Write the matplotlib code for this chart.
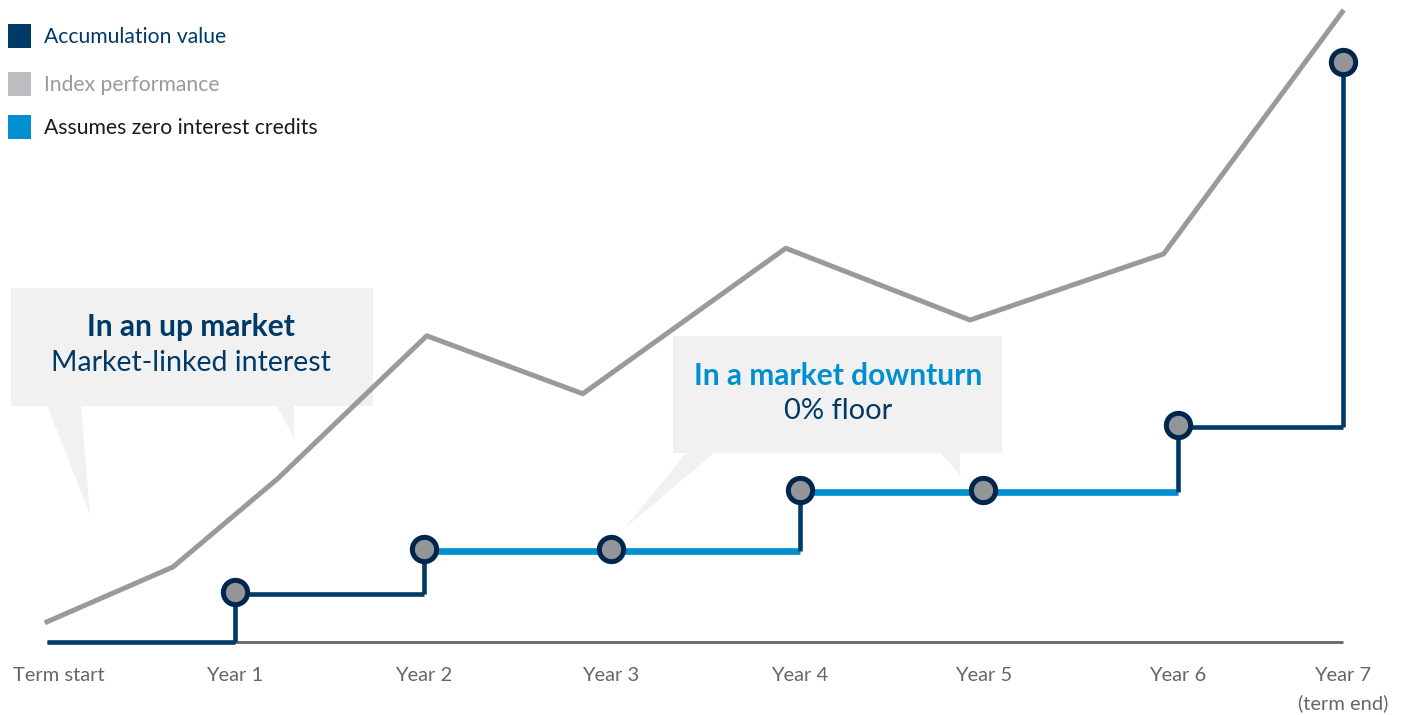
import matplotlib.pyplot as plt
from matplotlib.patches import Polygon, Rectangle

NAVY = "#003a66"
NAVY_EDGE = "#00264d"
BLUE = "#0090cf"
INDEX_GREY = "#9a9a9c"
MARKER_FILL = "#939598"
AXIS_GREY = "#666666"
BOX_GREY = "#f1f1f1"

plt.rcParams["font.family"] = ["Lato", "DejaVu Sans"]

# x in years (term start = 0), y in arbitrary value units (baseline = 0)
tick_labels = ["Term start", "Year 1", "Year 2", "Year 3", "Year 4", "Year 5", "Year 6", "Year 7"]
year_x = [0.0, 1.0, 2.005, 3.0, 4.005, 4.98, 6.016, 6.894]

index_x = [0.0, 0.67, 1.23, 2.02, 2.85, 3.93, 4.91, 5.94, 6.89]
index_y = [3.2, 11.9, 26.0, 48.6, 39.4, 62.5, 51.1, 61.6, 100.0]

# accumulation value at each year end
accum_y = [0.0, 7.6, 14.4, 14.4, 23.8, 23.8, 34.1, 91.7]
# segments (year i -> year i+1) drawn as "assumes zero interest credits"
zero_segment = [False, False, True, True, True, True, False]

fig = plt.figure(figsize=(14.06, 7.15), dpi=100)
ax = fig.add_axes([0, 0, 1, 1])
ax.set_xlim(-0.25, 7.229)
ax.set_ylim(-11.59, 101.9)
ax.axis("off")


def callout(x0, x1, y0, y1, tails):
    ax.add_patch(Rectangle((x0, y0), x1 - x0, y1 - y0, facecolor=BOX_GREY,
                           edgecolor="none", zorder=1))
    for tail in tails:
        ax.add_patch(Polygon(tail, closed=True, facecolor=BOX_GREY,
                             edgecolor="none", zorder=1))


callout(-0.191, 1.734, 37.5, 56.2, [
    [(0.0, 37.6), (0.181, 37.6), (0.229, 20.2)],
    [(1.218, 37.6), (1.314, 37.6), (1.314, 32.4)],
])
callout(3.33, 5.08, 30.0, 48.6, [
    [(3.404, 30.1), (3.553, 30.1), (3.074, 18.1)],
    [(4.75, 30.1), (4.856, 30.1), (4.856, 26.5)],
])

ax.text(0.766, 50.0, "In an up market", ha="center", va="center",
        fontsize=21.5, fontweight="bold", color=NAVY, zorder=2)
ax.text(0.766, 44.3, "Market-linked interest", ha="center", va="center",
        fontsize=20.5, color=NAVY, zorder=2)
ax.text(4.207, 42.2, "In a market downturn", ha="center", va="center",
        fontsize=21.5, fontweight="bold", color=BLUE, zorder=2)
ax.text(4.207, 36.6, "0% floor", ha="center", va="center",
        fontsize=21, color=NAVY, zorder=2)

# baseline axis
ax.plot([year_x[0], year_x[-1]], [0, 0], color=AXIS_GREY, lw=2.0,
        solid_capstyle="butt", zorder=2)

# index performance
ax.plot(index_x, index_y, color=INDEX_GREY, lw=3.6, zorder=3)

# accumulation value steps
for i in range(1, len(year_x)):
    blue = zero_segment[i - 1]
    ax.plot([year_x[i - 1], year_x[i]], [accum_y[i - 1], accum_y[i - 1]],
            color=BLUE if blue else NAVY, lw=4.8 if blue else 3.3,
            solid_capstyle="butt", zorder=4)
    if accum_y[i] != accum_y[i - 1]:
        ax.plot([year_x[i], year_x[i]], [accum_y[i - 1], accum_y[i]],
                color=NAVY, lw=3.3, solid_capstyle="butt", zorder=4)
ax.plot(year_x[1:], [y + 0.4 for y in accum_y[1:]], linestyle="none",
        marker="o", markersize=17.5, markerfacecolor=MARKER_FILL,
        markeredgecolor=NAVY_EDGE, markeredgewidth=3.6, zorder=5)

# x labels
for i, (x, label) in enumerate(zip(year_x, tick_labels)):
    if i == 0:
        ax.text(x - 0.181, -5.3, label, ha="left", va="center",
                fontsize=14.5, color=AXIS_GREY)
    else:
        ax.text(x, -5.3, label, ha="center", va="center", fontsize=14.5,
                color=AXIS_GREY)
ax.text(year_x[-1], -9.75, "(term end)", ha="center", va="center",
        fontsize=14.5, color=AXIS_GREY)

# legend
W, H = 1406, 715
legend_items = [
    ("Accumulation value", NAVY, NAVY, 37),
    ("Index performance", "#bcbdc0", INDEX_GREY, 85),
    ("Assumes zero interest credits", BLUE, "#1a1a1a", 128),
]
for label, swatch, text_color, py in legend_items:
    fig.patches.append(Rectangle((8 / W, 1 - (py + 11) / H), 23 / W, 24 / H,
                                 facecolor=swatch, edgecolor="none",
                                 transform=fig.transFigure, figure=fig))
    fig.text(44 / W, 1 - py / H, label, ha="left", va="center",
             fontsize=15.2, color=text_color)

fig.savefig("out.png", dpi=100)
